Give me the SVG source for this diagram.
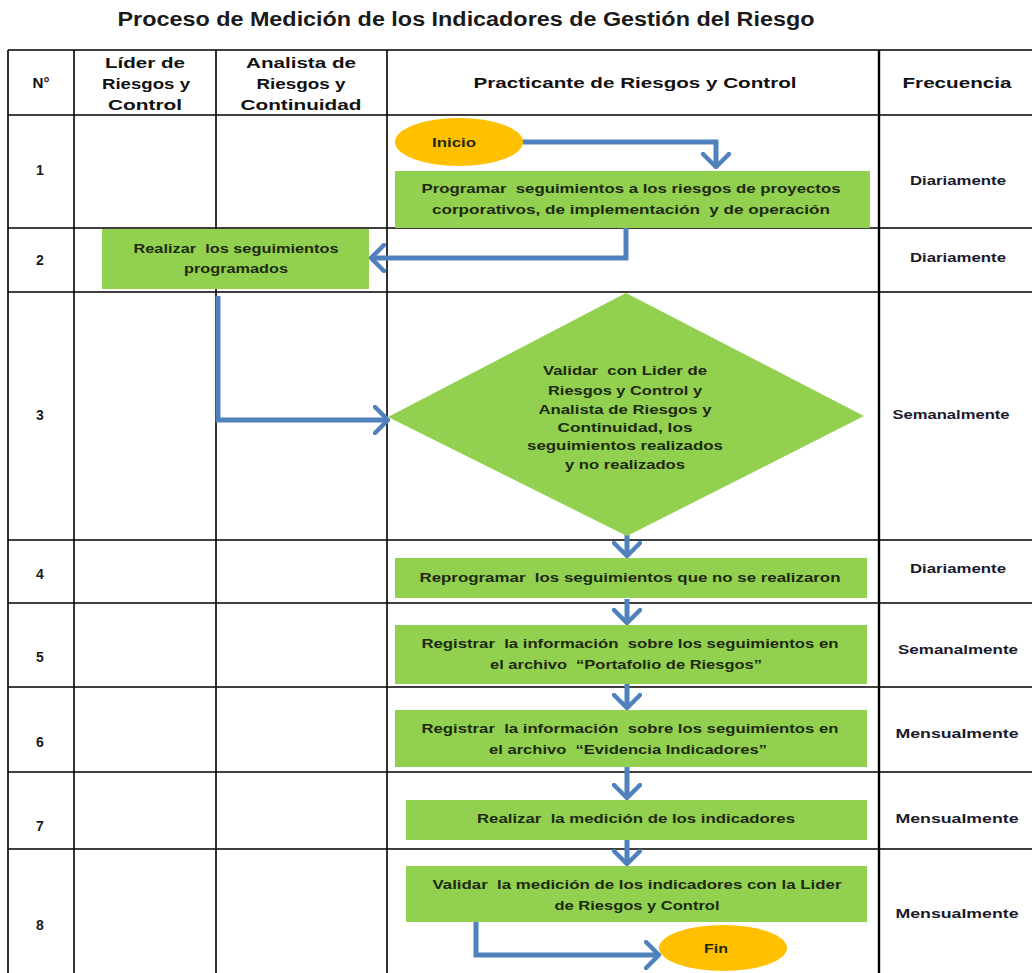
<svg xmlns="http://www.w3.org/2000/svg" width="1032" height="973" viewBox="0 0 1032 973">
<style>
.t{font-family:"Liberation Sans","DejaVu Sans",sans-serif;font-weight:bold;fill:#1a1a1a;text-anchor:middle;dominant-baseline:central;white-space:pre}
.h{font-size:15px;fill:#111}
.n{font-size:14px}
.b{font-size:13px;fill:#1e2a10}
.f{font-size:13px;fill:#1a1a2a}
.grid{stroke:#000;stroke-width:1.6;fill:none}
.box{fill:#92D050}
.term{fill:#FFC000}
.conn{stroke:#4F81BD;stroke-width:5;fill:none;stroke-linejoin:miter}
</style>
<defs>
<marker id="arr" viewBox="0 0 17 30" refX="15" refY="15" markerWidth="17" markerHeight="30" markerUnits="userSpaceOnUse" orient="auto">
<path d="M2,2 L15,15 L2,28" fill="none" stroke="#4F81BD" stroke-width="4.5" stroke-linecap="round" stroke-linejoin="round"/>
</marker>
</defs>
<rect width="1032" height="973" fill="#fff"/>
<text class="t" x="466" y="19" font-size="20" textLength="697" lengthAdjust="spacingAndGlyphs">Proceso de Medición de los Indicadores de Gestión del Riesgo</text>

<g id="table">
<path class="grid" d="M8,50 H1032 M8,115 H1032 M8,228 H1032 M8,292 H1032 M8,540 H1032 M8,603 H1032 M8,687 H1032 M8,772 H1032 M8,849 H1032 M8,50 V973 M74,50 V973 M216,50 V973 M387,50 V973"/>
<path d="M879,50 V973" stroke="#000" stroke-width="2.4"/>
<text class="t h" x="41" y="82" textLength="17" lengthAdjust="spacingAndGlyphs">N°</text>
<text class="t h" x="145" y="62" textLength="80" lengthAdjust="spacingAndGlyphs">Líder de</text>
<text class="t h" x="146" y="83" textLength="88" lengthAdjust="spacingAndGlyphs">Riesgos y</text>
<text class="t h" x="145" y="104" textLength="74" lengthAdjust="spacingAndGlyphs">Control</text>
<text class="t h" x="301" y="62" textLength="110" lengthAdjust="spacingAndGlyphs">Analista de</text>
<text class="t h" x="301" y="83" textLength="89" lengthAdjust="spacingAndGlyphs">Riesgos y</text>
<text class="t h" x="301" y="104" textLength="121" lengthAdjust="spacingAndGlyphs">Continuidad</text>
<text class="t h" x="635" y="82" textLength="323" lengthAdjust="spacingAndGlyphs">Practicante de Riesgos y Control</text>
<text class="t h" x="957" y="82" textLength="109" lengthAdjust="spacingAndGlyphs">Frecuencia</text>
<text class="t n" x="40" y="170">1</text>
<text class="t n" x="40" y="260">2</text>
<text class="t n" x="40" y="415">3</text>
<text class="t n" x="40" y="574">4</text>
<text class="t n" x="40" y="657">5</text>
<text class="t n" x="40" y="742">6</text>
<text class="t n" x="40" y="826">7</text>
<text class="t n" x="40" y="925">8</text>
<text class="t f" x="958" y="180" textLength="96" lengthAdjust="spacingAndGlyphs">Diariamente</text>
<text class="t f" x="958" y="257" textLength="96" lengthAdjust="spacingAndGlyphs">Diariamente</text>
<text class="t f" x="951" y="414" textLength="117" lengthAdjust="spacingAndGlyphs">Semanalmente</text>
<text class="t f" x="958" y="568" textLength="96" lengthAdjust="spacingAndGlyphs">Diariamente</text>
<text class="t f" x="958" y="649" textLength="120" lengthAdjust="spacingAndGlyphs">Semanalmente</text>
<text class="t f" x="957" y="733" textLength="123" lengthAdjust="spacingAndGlyphs">Mensualmente</text>
<text class="t f" x="957" y="818" textLength="123" lengthAdjust="spacingAndGlyphs">Mensualmente</text>
<text class="t f" x="957" y="913" textLength="123" lengthAdjust="spacingAndGlyphs">Mensualmente</text>
</g>

<g id="connectors">
<path class="conn" d="M522,142 H716 V167" marker-end="url(#arr)"/>
<path class="conn" d="M626,228 V258 H371" marker-end="url(#arr)"/>
<path class="conn" d="M218,296 V420 H388" marker-end="url(#arr)"/>
<path class="conn" d="M627,528 V556" marker-end="url(#arr)"/>
<path class="conn" d="M627,599 V623" marker-end="url(#arr)"/>
<path class="conn" d="M627,684 V708" marker-end="url(#arr)"/>
<path class="conn" d="M627,767 V798" marker-end="url(#arr)"/>
<path class="conn" d="M627,840 V864" marker-end="url(#arr)"/>
<path class="conn" d="M476,922 V955 H659" marker-end="url(#arr)"/>
</g>

<g id="inicio">
<ellipse class="term" cx="459" cy="142" rx="64" ry="24"/>
<text class="t b" x="454" y="142" textLength="44" lengthAdjust="spacingAndGlyphs">Inicio</text>
</g>
<g id="programar">
<rect class="box" x="395" y="171" width="475" height="57"/>
<text class="t b" x="631" y="188" textLength="419" lengthAdjust="spacingAndGlyphs">Programar  seguimientos a los riesgos de proyectos</text>
<text class="t b" x="631" y="209" textLength="398" lengthAdjust="spacingAndGlyphs">corporativos, de implementación  y de operación</text>
</g>
<g id="realizar-seguimientos">
<rect class="box" x="102" y="229" width="267" height="60"/>
<text class="t b" x="236" y="248" textLength="205" lengthAdjust="spacingAndGlyphs">Realizar  los seguimientos</text>
<text class="t b" x="236" y="268" textLength="104" lengthAdjust="spacingAndGlyphs">programados</text>
</g>
<g id="validar">
<polygon class="box" points="626,293 864,416 627,536 388,417"/>
<text class="t b" x="625" y="370" textLength="164" lengthAdjust="spacingAndGlyphs">Validar  con Lider de</text>
<text class="t b" x="625" y="390" textLength="154" lengthAdjust="spacingAndGlyphs">Riesgos y Control y</text>
<text class="t b" x="625" y="409" textLength="173" lengthAdjust="spacingAndGlyphs">Analista de Riesgos y</text>
<text class="t b" x="625" y="427" textLength="135" lengthAdjust="spacingAndGlyphs">Continuidad, los</text>
<text class="t b" x="625" y="445" textLength="196" lengthAdjust="spacingAndGlyphs">seguimientos realizados</text>
<text class="t b" x="625" y="464" textLength="120" lengthAdjust="spacingAndGlyphs">y no realizados</text>
</g>
<g id="reprogramar">
<rect class="box" x="395" y="558" width="472" height="40"/>
<text class="t b" x="630" y="577" textLength="421" lengthAdjust="spacingAndGlyphs">Reprogramar  los seguimientos que no se realizaron</text>
</g>
<g id="registrar-portafolio">
<rect class="box" x="395" y="625" width="472" height="59"/>
<text class="t b" x="630" y="643" textLength="417" lengthAdjust="spacingAndGlyphs">Registrar  la información  sobre los seguimientos en</text>
<text class="t b" x="626" y="664" textLength="272" lengthAdjust="spacingAndGlyphs">el archivo  “Portafolio de Riesgos”</text>
</g>
<g id="registrar-evidencia">
<rect class="box" x="395" y="710" width="472" height="57"/>
<text class="t b" x="630" y="728" textLength="417" lengthAdjust="spacingAndGlyphs">Registrar  la información  sobre los seguimientos en</text>
<text class="t b" x="628" y="749" textLength="278" lengthAdjust="spacingAndGlyphs">el archivo  “Evidencia Indicadores”</text>
</g>
<g id="medicion">
<rect class="box" x="406" y="800" width="461" height="40"/>
<text class="t b" x="636" y="818" textLength="318" lengthAdjust="spacingAndGlyphs">Realizar  la medición de los indicadores</text>
</g>
<g id="validar-medicion">
<rect class="box" x="406" y="866" width="461" height="56"/>
<text class="t b" x="637" y="884" textLength="409" lengthAdjust="spacingAndGlyphs">Validar  la medición de los indicadores con la Lider</text>
<text class="t b" x="637" y="905" textLength="165" lengthAdjust="spacingAndGlyphs">de Riesgos y Control</text>
</g>
<g id="fin">
<ellipse class="term" cx="723" cy="948" rx="64" ry="23"/>
<text class="t b" x="716" y="948" textLength="24" lengthAdjust="spacingAndGlyphs">Fin</text>
</g>
</svg>
